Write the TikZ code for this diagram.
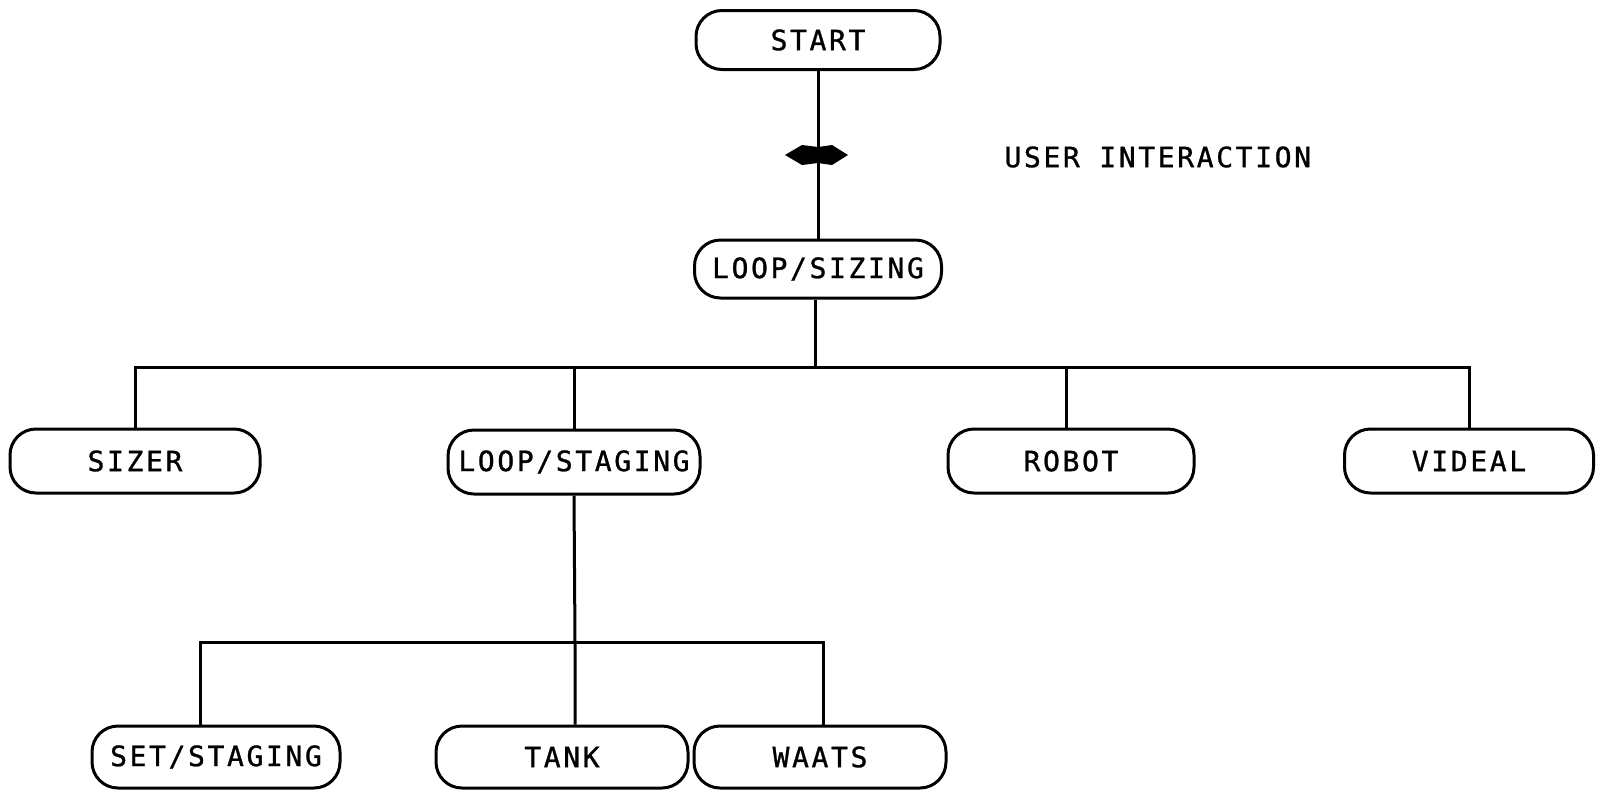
\documentclass[tikz,border=0pt]{standalone}
\usepackage{fontspec}
\newfontfamily\typefont[LetterSpace=9.4,FakeBold=1]{DejaVu Sans Mono}
\begin{document}
\begin{tikzpicture}[x=0.5pt,y=-0.5pt,line width=1.5pt,
  lbl/.style={font=\typefont\fontsize{14}{16}\selectfont},
  box/.style={lbl,draw,rounded corners=13pt,inner sep=0pt,minimum width=124pt,minimum height=32pt}]
\fill[white] (0,0) rectangle (1601,794);
\useasboundingbox (0,0) rectangle (1601,794);
% nodes
\node[box,minimum width=122pt,minimum height=29.5pt] (start) at (818,40) {START};
\node[box,minimum width=123.5pt,minimum height=29pt] (loopsiz) at (818,269) {LOOP/SIZING};
\node[box,minimum width=125pt] (sizer) at (135,461) {SIZER};
\node[box,minimum width=126pt] (loopstag) at (574,462) {LOOP/STAGING};
\node[box,minimum width=123pt] (robot) at (1071,461) {ROBOT};
\node[box,minimum width=124.5pt] (videal) at (1469,461) {VIDEAL};
\node[box,minimum height=31pt] (setst) at (216,757) {SET/STAGING};
\node[box,minimum width=126pt,minimum height=31pt] (tank) at (562,757) {TANK};
\node[box,minimum width=126pt,minimum height=31pt] (waats) at (820,757) {WAATS};
\node[lbl,anchor=west,inner sep=0pt] (uitext) at (1003,157) {USER INTERACTION};
% user interaction marker
\coordinate (ui) at (818,155);
\draw (start.south) -- (loopsiz.north);
\fill ([xshift=-16.5pt]ui) -- ([xshift=-8pt,yshift=5pt]ui) -- ([xshift=0pt,yshift=4pt]ui)
  -- ([xshift=7pt,yshift=5pt]ui) -- ([xshift=15pt]ui) -- ([xshift=7pt,yshift=-5pt]ui)
  -- ([xshift=0pt,yshift=-4pt]ui) -- ([xshift=-8pt,yshift=-5pt]ui) -- cycle;
% first level bus
\coordinate (j1) at (815,367);
\draw ([xshift=-1.5pt]loopsiz.south) -- (j1);
\draw (sizer.north) -- (sizer.north |- j1) -- (videal.north |- j1) -- (videal.north);
\draw (loopstag.north) -- (loopstag.north |- j1);
\draw ([xshift=-2.5pt]robot.north) -- ([xshift=-2.5pt]robot.north |- j1);
% second level bus
\coordinate (j2) at (575,642);
\draw (loopstag.south) -- (j2) -- (tank.north -| j2);
\draw ([xshift=-8pt]setst.north) -- ([xshift=-8pt]setst.north |- j2) -- ([xshift=1.5pt]waats.north |- j2) -- ([xshift=1.5pt]waats.north);
\end{tikzpicture}
\end{document}
